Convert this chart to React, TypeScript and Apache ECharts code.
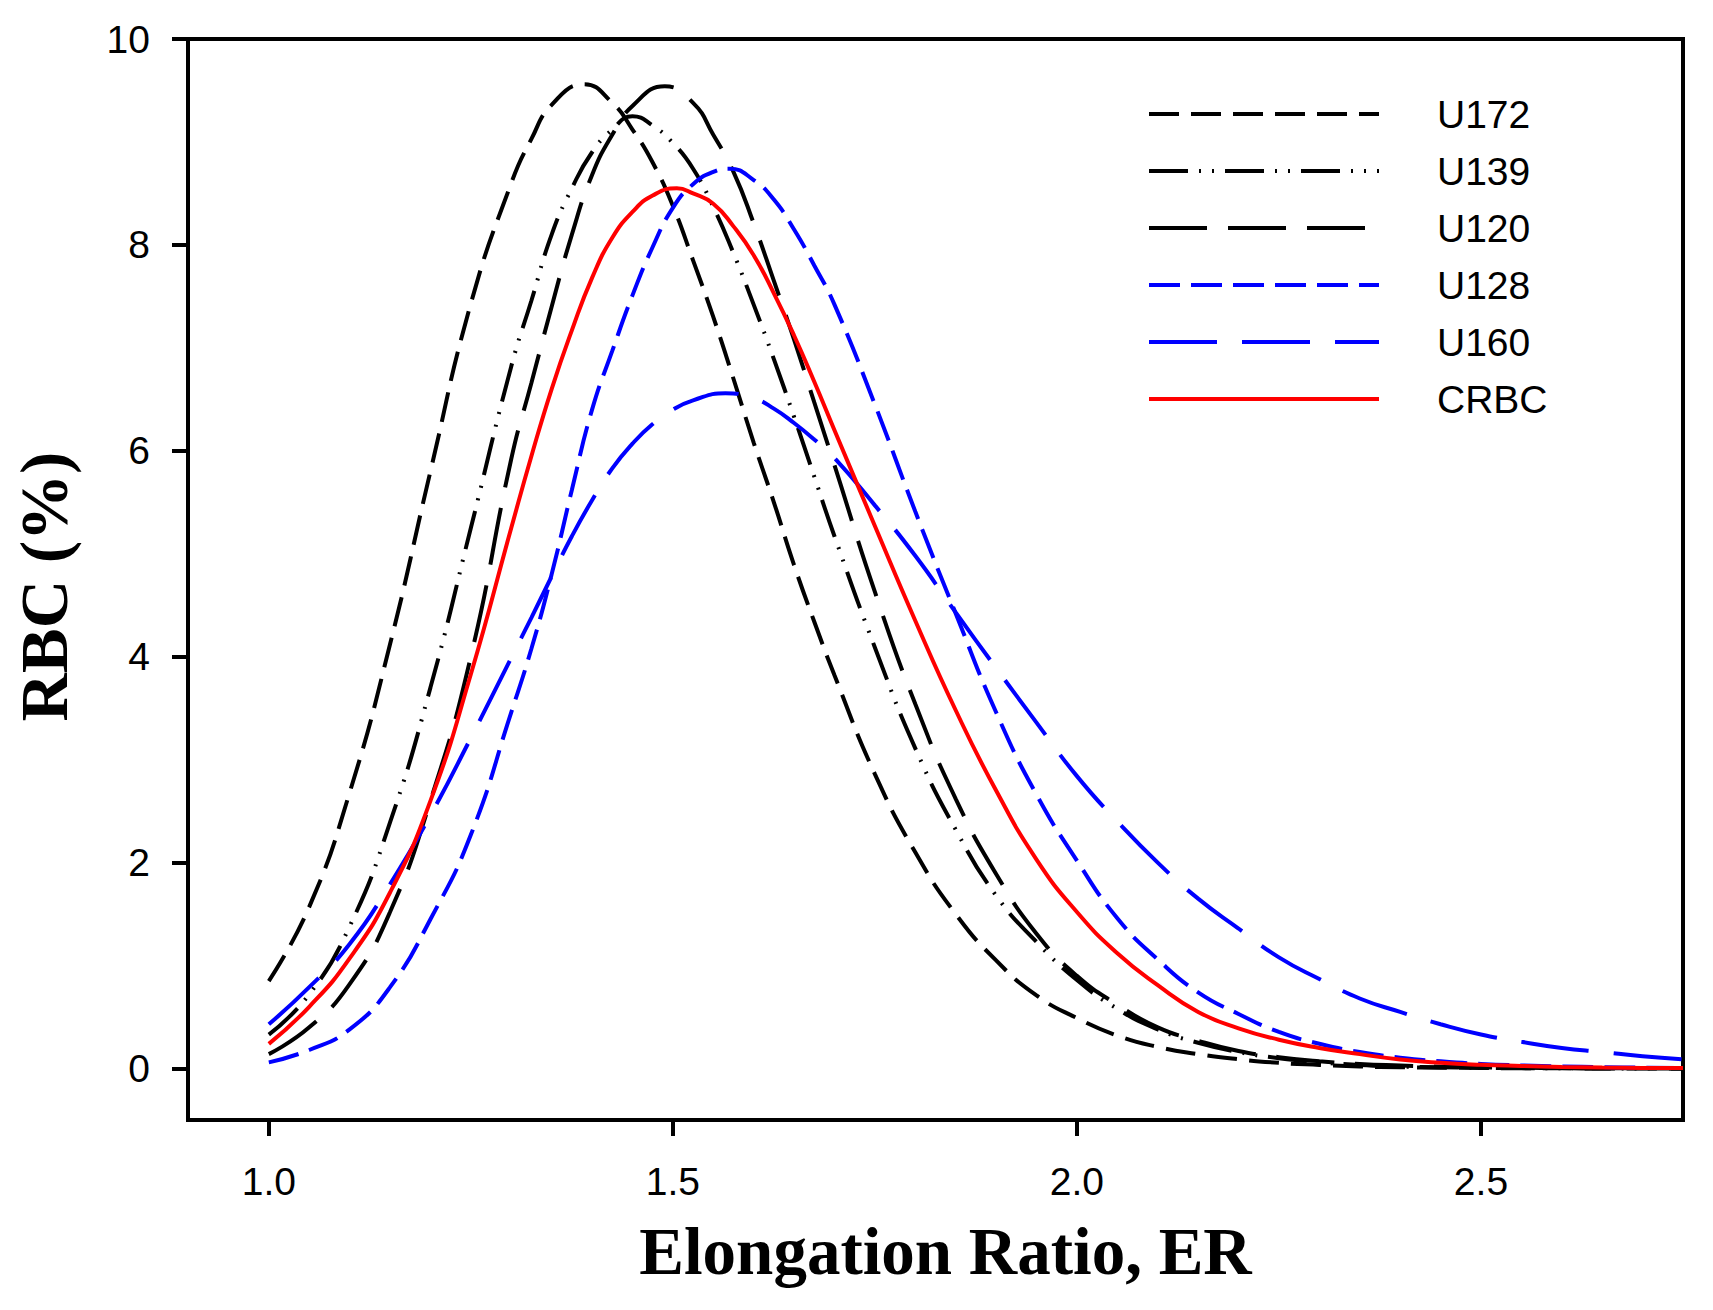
import React, { useEffect, useRef } from "react";
import * as echarts from "echarts";

const xValues = [
  1.0, 1.05, 1.1, 1.15, 1.2, 1.25,
  1.3, 1.325, 1.35, 1.375, 1.4, 1.425, 1.45, 1.475, 1.5, 1.525,
  1.55, 1.575, 1.6, 1.625, 1.65, 1.675, 1.7,
  1.75, 1.8, 1.85, 1.9, 1.95,
  2.0, 2.05, 2.1, 2.15, 2.2, 2.25, 2.3, 2.35, 2.4, 2.45,
  2.5, 2.55, 2.6, 2.65, 2.7, 2.75,
];

const u172 = [
  0.85, 1.57, 2.68, 4.12, 5.8, 7.43,
  8.6, 9.03, 9.36, 9.51, 9.54, 9.38, 9.12, 8.8, 8.38, 7.85,
  7.3, 6.7, 6.08, 5.5, 4.89, 4.34, 3.82,
  2.86, 2.1, 1.5, 1.05, 0.71,
  0.49, 0.32, 0.21, 0.14, 0.09, 0.055, 0.035, 0.02, 0.012, 0.008,
  0.005, 0.003, 0.002, 0.001, 0.001, 0.0,
];
const u139 = [
  0.33, 0.72, 1.38, 2.39, 3.7, 5.25,
  6.82, 7.46, 8.1, 8.55, 8.9, 9.12, 9.24, 9.16, 8.99, 8.74,
  8.37, 7.92, 7.42, 6.89, 6.33, 5.75, 5.17,
  4.09, 3.11, 2.32, 1.68, 1.23,
  0.86, 0.58, 0.38, 0.25, 0.16, 0.1, 0.06, 0.035, 0.02, 0.012,
  0.007, 0.004, 0.002, 0.001, 0.001, 0.0,
];
const u120 = [
  0.14, 0.4, 0.82, 1.52, 2.6, 4.0,
  5.92, 6.66, 7.4, 8.1, 8.68, 9.07, 9.35, 9.5, 9.52, 9.38,
  9.07, 8.71, 8.21, 7.65, 7.08, 6.47, 5.86,
  4.63, 3.54, 2.62, 1.89, 1.31,
  0.9, 0.62, 0.4, 0.27, 0.17, 0.11, 0.07, 0.045, 0.03, 0.018,
  0.011, 0.007, 0.004, 0.003, 0.002, 0.001,
];
const u128 = [
  0.06, 0.18, 0.38, 0.79, 1.45, 2.27,
  3.46, 4.08, 4.8, 5.62, 6.4, 6.97, 7.51, 7.98, 8.36, 8.59,
  8.71, 8.73, 8.63, 8.44, 8.15, 7.8, 7.42,
  6.45, 5.41, 4.42, 3.46, 2.66,
  2.02, 1.46, 1.06, 0.74, 0.53, 0.355, 0.24, 0.16, 0.105, 0.07,
  0.045, 0.03, 0.02, 0.013, 0.008, 0.005,
];
const u160 = [
  0.43, 0.79, 1.21, 1.79, 2.46, 3.21,
  3.99, 4.38, 4.78, 5.17, 5.52, 5.83, 6.07, 6.26, 6.4, 6.49,
  6.54, 6.55, 6.51, 6.41, 6.27, 6.11, 5.93,
  5.47, 4.98, 4.43, 3.89, 3.36,
  2.84, 2.4, 2.0, 1.65, 1.36, 1.08, 0.87, 0.68, 0.55, 0.43,
  0.33, 0.26, 0.2, 0.16, 0.12, 0.09,
];
const crbc = [
  0.24, 0.6, 1.07, 1.71, 2.6, 3.83,
  5.25, 5.95, 6.6, 7.17, 7.68, 8.07, 8.32, 8.48, 8.54, 8.5,
  8.4, 8.18, 7.9, 7.53, 7.12, 6.67, 6.2,
  5.27, 4.35, 3.48, 2.7, 2.03,
  1.52, 1.12, 0.81, 0.55, 0.39, 0.28, 0.2, 0.14, 0.087, 0.055,
  0.036, 0.025, 0.016, 0.01, 0.006, 0.004,
];

// Peak position and height of each curve
const peakX = [1.39, 1.45, 1.49, 1.57, 1.565, 1.505];
const peakY = [9.56, 9.25, 9.54, 8.74, 6.56, 8.55];

const seriesNames = ["U172", "U139", "U120", "U128", "U160", "CRBC"];
const seriesValues = [u172, u139, u120, u128, u160, crbc];
const seriesColors = ["#000000", "#000000", "#000000", "#0000ff", "#0000ff", "#ff0000"];
const seriesDashes: any[] = [
  [30, 12],
  [39, 11, 2, 11, 2, 11],
  [58, 21],
  [31, 11],
  [68, 25],
  "solid",
];

const xTicks = [1.0, 1.5, 2.0, 2.5];
const yTicks = [0, 2, 4, 6, 8, 10];

const SANS = "'Liberation Sans', Arial, sans-serif";
const SERIF = "'Liberation Serif', 'Times New Roman', serif";

function buildData(i: number): number[][] {
  const pts: number[][] = [];
  xValues.forEach((x, j) => {
    if (Math.abs(x - peakX[i]) > 0.0151) pts.push([x, seriesValues[i][j]]);
  });
  pts.push([peakX[i], peakY[i]]);
  pts.sort((a, b) => a[0] - b[0]);
  return pts;
}

export default function App() {
  const ref = useRef<HTMLDivElement>(null);

  useEffect(() => {
    if (!ref.current) return;
    const chart = echarts.init(ref.current, undefined, { renderer: "svg" });

    const series = seriesNames.map((name, i) => ({
      name,
      type: "line",
      data: buildData(i),
      smooth: 0.5,
      symbol: "none",
      showSymbol: false,
      color: seriesColors[i],
      itemStyle: { color: seriesColors[i] },
      lineStyle: { color: seriesColors[i], width: 4, type: seriesDashes[i] },
      emphasis: { disabled: true },
      z: 2 + i,
    }));

    chart.setOption({
      animation: false,
      backgroundColor: "#ffffff",
      grid: {
        left: 188,
        right: 30,
        top: 39,
        bottom: 190,
        containLabel: false,
        outerBoundsMode: "none",
        show: true,
        borderColor: "#000000",
        borderWidth: 4,
        backgroundColor: "transparent",
      },
      legend: {
        orient: "vertical",
        left: 1142,
        top: 89,
        itemWidth: 230,
        itemHeight: 40,
        itemGap: 17,
        selectedMode: false,
        data: seriesNames,
        itemStyle: { opacity: 0 },
        lineStyle: { width: 4 },
        textStyle: {
          fontFamily: SANS,
          fontSize: 39,
          color: "#000000",
          lineHeight: 40,
          padding: [0, 0, 0, 53],
        },
      },
      xAxis: {
        type: "value",
        min: 0.9,
        max: 2.75,
        name: "Elongation Ratio, ER",
        nameLocation: "middle",
        nameGap: 97,
        nameMoveOverlap: false,
        nameTextStyle: {
          fontFamily: SERIF,
          fontWeight: "bold",
          fontSize: 67,
          color: "#000000",
          padding: [0, 0, 0, 20],
        },
        axisLine: { show: true, onZero: false, lineStyle: { color: "#000000", width: 4 } },
        axisTick: {
          show: true,
          inside: false,
          length: 16,
          customValues: xTicks,
          lineStyle: { color: "#000000", width: 4 },
        },
        axisLabel: {
          show: true,
          customValues: xTicks,
          formatter: (v: number) => v.toFixed(1),
          fontFamily: SANS,
          fontSize: 39,
          color: "#000000",
          margin: 42,
        },
        splitLine: { show: false },
      },
      yAxis: {
        type: "value",
        min: -0.5,
        max: 10,
        name: "RBC (%)",
        nameLocation: "middle",
        nameGap: 111,
        nameMoveOverlap: false,
        nameTextStyle: {
          fontFamily: SERIF,
          fontWeight: "bold",
          fontSize: 67,
          color: "#000000",
          padding: [0, 14, 0, 0],
        },
        axisLine: { show: true, onZero: false, lineStyle: { color: "#000000", width: 4 } },
        axisTick: {
          show: true,
          inside: false,
          length: 16,
          customValues: yTicks,
          lineStyle: { color: "#000000", width: 4 },
        },
        axisLabel: {
          show: true,
          customValues: yTicks,
          formatter: (v: number) => String(v),
          fontFamily: SANS,
          fontSize: 39,
          color: "#000000",
          margin: 38,
        },
        splitLine: { show: false },
      },
      series,
    });

    return () => {
      chart.dispose();
    };
  }, []);

  return (
    <div
      ref={ref}
      style={{ position: "absolute", left: 0, top: 0, width: 1713, height: 1310, background: "#fff" }}
    />
  );
}
